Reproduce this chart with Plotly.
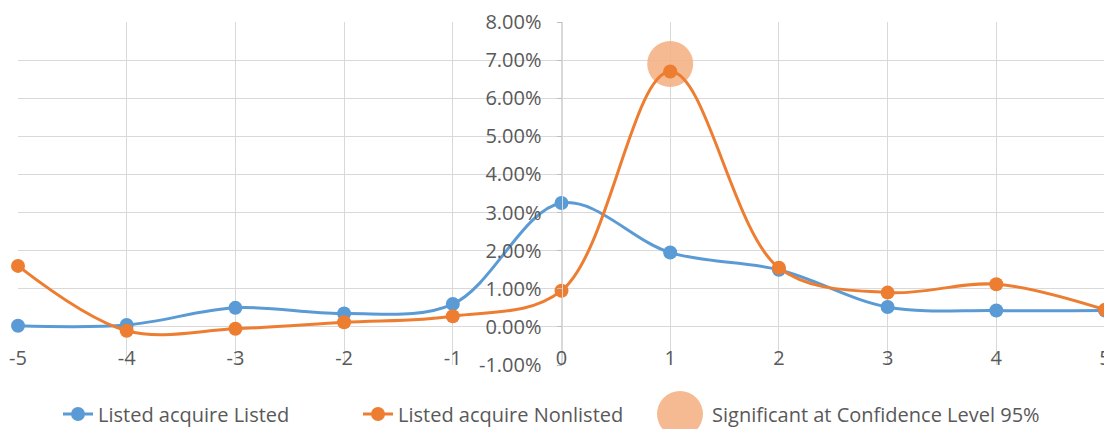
import plotly.graph_objects as go

days = [-5, -4, -3, -2, -1, 0, 1, 2, 3, 4, 5]
x_tick_labels = ["-5", "-4", "-3", "-2", "-1", "0", "1", "2", "3", "4", "5"]
listed_listed = [0.0003, 0.0005, 0.0050, 0.0035, 0.0060, 0.0325, 0.0195, 0.0150, 0.0052, 0.0043, 0.0043]
listed_nonlisted = [0.0160, -0.0010, -0.0005, 0.0012, 0.0028, 0.0095, 0.0670, 0.0155, 0.0090, 0.0112, 0.0045]
sig_days = [1]
sig_values = [0.0690]
y_ticks = [-0.01, 0, 0.01, 0.02, 0.03, 0.04, 0.05, 0.06, 0.07, 0.08]
y_tick_labels = ["-1.00%", "0.00%", "1.00%", "2.00%", "3.00%", "4.00%",
                 "5.00%", "6.00%", "7.00%", "8.00%"]
y_range = [-0.01, 0.08]

BLUE = "#5B9BD5"
ORANGE = "#ED7D31"
PEACH = "rgba(244,177,131,0.88)"
FONT = "Open Sans"

# page offset of the figure inside the browser (default body margin)
OFF = 8
W, H = 1112 - OFF, 429 - OFF
# target plot box in screenshot pixels: left 18, right 1105, top 22, bottom 365
ML, MT = 18 - OFF, 22 - OFF
MR = W - (1105 - OFF)
MB = H - (365 - OFF)
PW, PH = W - ML - MR, H - MT - MB

def px_x(p):
    return (p - OFF - ML) / PW

def px_y(p):
    return (H - MB - (p - OFF)) / PH

fig = go.Figure()
fig.add_trace(go.Scatter(
    x=sig_days, y=sig_values, name="Significant at Confidence Level 95%",
    mode="markers", marker=dict(size=46, color=PEACH), showlegend=False,
    cliponaxis=False))
fig.add_trace(go.Scatter(
    x=days, y=listed_listed, name="Listed acquire Listed", legend="legend",
    mode="lines+markers", line=dict(color=BLUE, width=3, shape="spline", smoothing=1.0),
    marker=dict(size=14, color=BLUE), cliponaxis=False))
fig.add_trace(go.Scatter(
    x=days, y=listed_nonlisted, name="Listed acquire Nonlisted", legend="legend2",
    mode="lines+markers", line=dict(color=ORANGE, width=3, shape="spline", smoothing=1.0),
    marker=dict(size=14, color=ORANGE), cliponaxis=False))
# legend entry for the significance marker (symbol drawn as a larger shape below)
fig.add_trace(go.Scatter(
    x=[None], y=[None], name="Significant at Confidence Level 95%", legend="legend3",
    mode="markers", marker=dict(size=10, color="rgba(0,0,0,0)"), showlegend=True))

leg_common = dict(orientation="h", yanchor="middle", y=px_y(414), xanchor="left",
                  font=dict(family=FONT, size=20, color="#595959"),
                  bgcolor="rgba(0,0,0,0)")

fig.update_layout(
    width=W, height=H,
    margin=dict(l=ML, r=MR, t=MT, b=MB, autoexpand=False),
    paper_bgcolor="white", plot_bgcolor="white",
    font=dict(family=FONT, size=20, color="#595959"),
    legend=dict(x=px_x(58), **leg_common),
    legend2=dict(x=px_x(358), **leg_common),
    legend3=dict(x=px_x(672), **leg_common),
    xaxis=dict(range=[-5, 5], tickmode="array", tickvals=days, ticktext=x_tick_labels,
               anchor="free", position=(0 - y_range[0]) / (y_range[1] - y_range[0]),
               showgrid=True, gridcolor="#D9D9D9", gridwidth=1,
               zeroline=False, showline=False, automargin=False,
               ticks="outside", ticklen=13, tickcolor="rgba(0,0,0,0)",
               tickfont=dict(family=FONT, size=20, color="#595959")),
    yaxis=dict(range=y_range, tickmode="array", tickvals=y_ticks, ticktext=y_tick_labels,
               anchor="free", position=0.5,
               showgrid=True, gridcolor="#D9D9D9", gridwidth=1,
               zeroline=False, showline=True, linecolor="#D9D9D9", automargin=False,
               ticks="outside", ticklen=5, tickcolor="#BFBFBF",
               ticklabelstandoff=11,
               tickfont=dict(family=FONT, size=20, color="#595959")),
    shapes=[dict(type="circle", xref="paper", yref="paper",
                 xsizemode="pixel", ysizemode="pixel",
                 xanchor=px_x(680), yanchor=px_y(414),
                 x0=-23, x1=23, y0=-23, y1=23,
                 fillcolor=PEACH, line=dict(width=0))],
)

fig.write_html("out.html")
